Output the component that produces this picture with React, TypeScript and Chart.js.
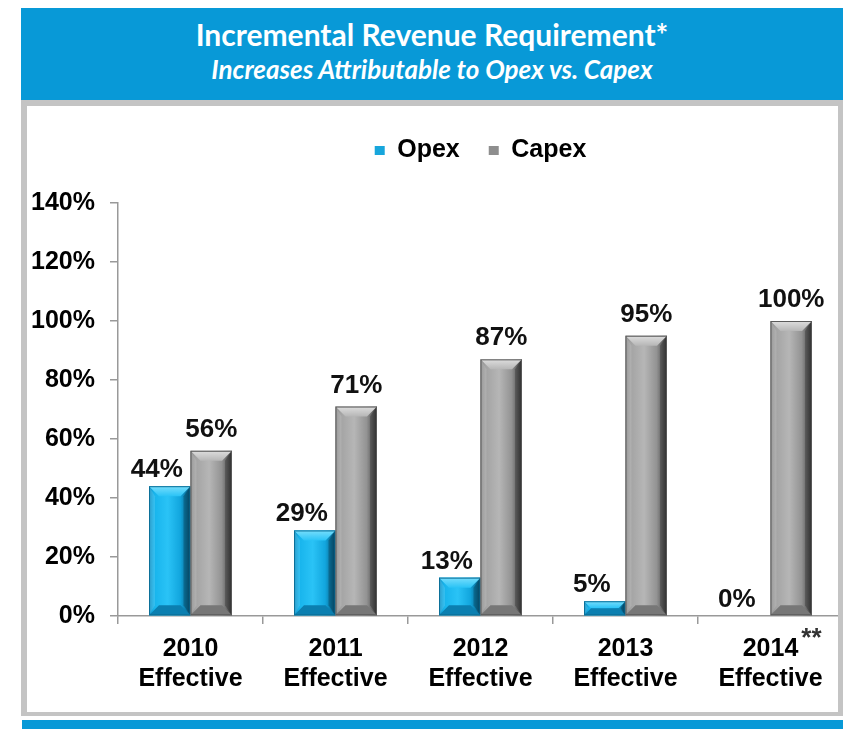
import React, { useEffect, useRef } from 'react';
import { Chart, registerables } from 'chart.js';

Chart.register(...registerables);

const titleText = 'Incremental Revenue Requirement*';
const subtitleText = 'Increases Attributable to Opex vs. Capex';
const categoryYears = ['2010', '2011', '2012', '2013', '2014'];
const categorySecondLine = ['Effective', 'Effective', 'Effective', 'Effective', 'Effective'];
const seriesNames = ['Opex', 'Capex'];
const opexValues = [44, 29, 13, 5, 0];
const capexValues = [56, 71, 87, 95, 100];
const yMin = 0;
const yMax = 140;
const yStep = 20;
const footnoteIndex = 4;
const footnoteMark = '**';

const FONT = '"Liberation Sans", Arial, sans-serif';

const palettes = [
  { legend: '#17a6dc', edgeL: '#1190c4', face: '#17b4ec', light: '#2ac3f6', face2: '#12a6de', dark: '#06557a', top: '#78defc', bottom: '#0b7fb0', outline: '#0b6f98' },
  { legend: '#8e8e8e', edgeL: '#8c8c8c', face: '#a3a3a3', light: '#b6b6b6', face2: '#939393', dark: '#3c3c3c', top: '#dedede', bottom: '#777777', outline: '#5a5a5a' },
];

const bevelPlugin = {
  id: 'bevelBars',
  afterDatasetsDraw(chart: any) {
    const ctx = chart.ctx;
    chart.data.datasets.forEach((_ds: any, di: number) => {
      const meta = chart.getDatasetMeta(di);
      const pal = palettes[di];
      meta.data.forEach((el: any) => {
        const { x, y, base, width } = el.getProps(['x', 'y', 'base', 'width'], true);
        const l = x - width / 2;
        const r = x + width / 2;
        const t = Math.min(y, base);
        const b = Math.max(y, base);
        const h = b - t;
        if (h < 1) return;
        const bev = Math.min(10, h / 2, width / 4);
        ctx.save();
        const g = ctx.createLinearGradient(l, 0, r, 0);
        g.addColorStop(0, pal.edgeL);
        g.addColorStop(0.12, pal.face);
        g.addColorStop(0.45, pal.light);
        g.addColorStop(0.75, pal.face2);
        g.addColorStop(1, pal.dark);
        ctx.fillStyle = g;
        ctx.fillRect(l, t, width, h);
        ctx.beginPath();
        ctx.moveTo(l, t);
        ctx.lineTo(r, t);
        ctx.lineTo(r - bev, t + bev);
        ctx.lineTo(l + bev, t + bev);
        ctx.closePath();
        const gt = ctx.createLinearGradient(0, t, 0, t + bev);
        gt.addColorStop(0, pal.top);
        gt.addColorStop(1, pal.light);
        ctx.fillStyle = gt;
        ctx.fill();
        ctx.beginPath();
        ctx.moveTo(l, b);
        ctx.lineTo(r, b);
        ctx.lineTo(r - bev, b - bev);
        ctx.lineTo(l + bev, b - bev);
        ctx.closePath();
        ctx.fillStyle = pal.bottom;
        ctx.fill();
        ctx.beginPath();
        ctx.moveTo(r, t);
        ctx.lineTo(r, b);
        ctx.lineTo(r - bev * 0.7, b - bev);
        ctx.lineTo(r - bev * 0.7, t + bev);
        ctx.closePath();
        ctx.fillStyle = 'rgba(0,0,0,0.22)';
        ctx.fill();
        ctx.beginPath();
        ctx.moveTo(l, t);
        ctx.lineTo(l, b);
        ctx.lineTo(l + bev * 0.6, b - bev);
        ctx.lineTo(l + bev * 0.6, t + bev);
        ctx.closePath();
        ctx.fillStyle = 'rgba(255,255,255,0.12)';
        ctx.fill();
        ctx.strokeStyle = pal.outline;
        ctx.lineWidth = 1;
        ctx.strokeRect(l + 0.5, t + 0.5, width - 1, h - 1);
        ctx.restore();
      });
    });
  },
};

const labelPlugin = {
  id: 'valueLabels',
  afterDatasetsDraw(chart: any) {
    const ctx = chart.ctx;
    ctx.save();
    ctx.font = `bold 26px ${FONT}`;
    ctx.fillStyle = '#111111';
    ctx.textAlign = 'center';
    ctx.textBaseline = 'alphabetic';
    chart.data.datasets.forEach((ds: any, di: number) => {
      const meta = chart.getDatasetMeta(di);
      const dx = di === 0 ? -13 : 0;
      const gap = di === 0 ? 9 : 14;
      meta.data.forEach((el: any, i: number) => {
        const { x, y } = el.getProps(['x', 'y'], true);
        ctx.fillText(`${ds.data[i]}%`, x + dx, y - gap);
      });
    });
    ctx.restore();
  },
};

const footnotePlugin = {
  id: 'footnoteMark',
  afterDraw(chart: any) {
    const ctx = chart.ctx;
    const xs = chart.scales.x;
    const px = xs.getPixelForValue(footnoteIndex);
    ctx.save();
    ctx.font = `bold 25px ${FONT}`;
    const w = ctx.measureText(categoryYears[footnoteIndex]).width;
    ctx.font = `bold 26px ${FONT}`;
    ctx.fillStyle = '#333333';
    ctx.textAlign = 'left';
    ctx.textBaseline = 'alphabetic';
    ctx.fillText(footnoteMark, px + w / 2 + 3, xs.top + 30);
    ctx.restore();
  },
};

export default function App() {
  const canvasRef = useRef<HTMLCanvasElement | null>(null);

  useEffect(() => {
    if (!canvasRef.current) return;
    const chart = new Chart(canvasRef.current, {
      type: 'bar',
      data: {
        labels: categoryYears.map((y, i) => [y, categorySecondLine[i]]),
        datasets: [
          {
            label: seriesNames[0],
            data: opexValues,
            backgroundColor: palettes[0].legend,
            borderWidth: 0,
            barPercentage: 1,
            categoryPercentage: 0.572,
          },
          {
            label: seriesNames[1],
            data: capexValues,
            backgroundColor: palettes[1].legend,
            borderWidth: 0,
            barPercentage: 1,
            categoryPercentage: 0.572,
          },
        ],
      },
      options: {
        animation: false,
        responsive: false,
        devicePixelRatio: 1,
        layout: { padding: { top: 3, left: 0, right: 0, bottom: 8 } },
        plugins: {
          tooltip: { enabled: false },
          legend: {
            position: 'top',
            fullSize: false,
            labels: {
              font: { family: FONT, size: 25, weight: 'bold' },
              color: '#000000',
              boxWidth: 10,
              boxHeight: 9,
              padding: 29,
            },
          },
          title: {
            display: true,
            text: '',
            position: 'top',
            weight: 500,
            fullSize: false,
            padding: { top: 0, bottom: 29 },
            font: { size: 1, lineHeight: 1 },
          },
        },
        scales: {
          x: {
            grid: { offset: true, drawOnChartArea: false, tickLength: 8, color: '#999999', lineWidth: 1.5 },
            border: { color: '#999999', width: 1.5 },
            ticks: {
              font: { family: FONT, size: 25, weight: 'bold', lineHeight: 1.2 },
              color: '#000000',
              padding: 10,
              maxRotation: 0,
              autoSkip: false,
            },
          },
          y: {
            min: yMin,
            max: yMax,
            afterFit: (s: any) => {
              s.width = 91;
            },
            grid: { drawOnChartArea: false, tickLength: 8, color: '#999999', lineWidth: 1.5 },
            border: { color: '#999999', width: 1.5 },
            ticks: {
              stepSize: yStep,
              font: { family: FONT, size: 25, weight: 'bold' },
              color: '#000000',
              padding: 15,
              callback: (v: any) => `${v}%`,
            },
          },
        },
      },
      plugins: [bevelPlugin, labelPlugin, footnotePlugin],
    });
    return () => chart.destroy();
  }, []);

  return (
    <div style={{ position: 'fixed', left: 0, top: 0, width: 846, height: 729, overflow: 'hidden', background: '#ffffff' }}>
      <div
        style={{
          position: 'absolute', left: 21, top: 8, width: 822, height: 92, background: '#0899d7',
          color: '#ffffff', textAlign: 'center', fontFamily: 'Lato, "Open Sans", sans-serif',
        }}
      >
        <div style={{ position: 'absolute', left: 0, right: 0, top: 8, fontSize: 30, fontWeight: 700, lineHeight: '36px', whiteSpace: 'nowrap' }}>{titleText}</div>
        <div style={{ position: 'absolute', left: 0, right: 0, top: 46, fontSize: 26, fontWeight: 700, fontStyle: 'italic', lineHeight: '30px', whiteSpace: 'nowrap' }}>{subtitleText}</div>
      </div>
      <canvas ref={canvasRef} width={816} height={606} style={{ position: 'absolute', left: 27, top: 106, width: 816, height: 606 }} />
      <div
        style={{
          position: 'absolute', left: 21, top: 100, width: 822, height: 616, boxSizing: 'border-box',
          borderStyle: 'solid', borderColor: '#c4c4c4', borderWidth: '6px 5px 4px 6px', pointerEvents: 'none',
        }}
      />
      <div style={{ position: 'absolute', left: 22, top: 720, width: 821, height: 9, background: '#0899d7' }} />
    </div>
  );
}
